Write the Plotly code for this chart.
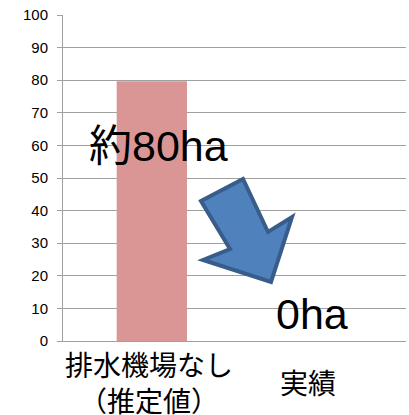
import plotly.graph_objects as go

# Flooded area (ha): estimated without the drainage pump station vs. actual
categories = ["排水機場なし（推定値）", "実績"]
category_labels = ["排水機場なし<br>（推定値）", "実績"]
values = [79.7, 0]
value_labels = ["約80ha", "0ha"]

y_ticks = list(range(0, 101, 10))

BAR_COLOR = "#D99694"
GRID_COLOR = "#A0A0A0"
ARROW_FILL = "#4F81BD"
ARROW_LINE = "#385D8A"
LATIN_CJK = "Liberation Sans, Noto Sans CJK JP, sans-serif"

fig = go.Figure()
fig.add_trace(go.Bar(
    x=categories,
    y=values,
    marker=dict(color=BAR_COLOR, line=dict(width=0)),
    width=0.41,
    offset=-0.187,
    hoverinfo="skip",
))

# Category labels, vertically centred below the axis
label_shift = [0, -12]
for cat, text, dx in zip(categories, category_labels, label_shift):
    fig.add_annotation(
        x=cat, y=-0.134, xref="x", yref="paper",
        text=text, showarrow=False, xshift=dx,
        xanchor="center", yanchor="middle",
        font=dict(family=LATIN_CJK, size=28, color="#000000"),
    )

# Large value callouts
callout_pos = [(0.277, 0.598), (0.726, 0.083)]
for text, (px, py) in zip(value_labels, callout_pos):
    fig.add_annotation(
        x=px, y=py, xref="paper", yref="paper",
        text=text, showarrow=False,
        xanchor="center", yanchor="middle",
        font=dict(family=LATIN_CJK, size=43, color="#000000"),
    )

# Block arrow pointing down-right
arrow_pts = [
    (0.4023, 0.4294), (0.5248, 0.4969), (0.5977, 0.3344),
    (0.6676, 0.3804), (0.6064, 0.1810), (0.4082, 0.2485),
    (0.4869, 0.2822),
]
path = "M " + " L ".join(f"{x},{y}" for x, y in arrow_pts) + " Z"
fig.add_shape(
    type="path", path=path, xref="paper", yref="paper",
    fillcolor=ARROW_FILL, line=dict(color=ARROW_LINE, width=4),
    layer="above",
)

fig.update_layout(
    width=409, height=415,
    margin=dict(l=63, r=3, t=15, b=74),
    paper_bgcolor="white", plot_bgcolor="white",
    showlegend=False,
    bargap=0.59,
)
fig.update_xaxes(
    type="category", range=[-0.5, 1.5],
    showticklabels=False, showgrid=False,
    showline=True, linecolor=GRID_COLOR, linewidth=1,
    ticks="", zeroline=False,
)
fig.update_yaxes(
    range=[0, 100], tickvals=y_ticks,
    showgrid=True, gridcolor=GRID_COLOR, gridwidth=1,
    showline=True, linecolor=GRID_COLOR, linewidth=1,
    ticks="outside", ticklen=5, tickcolor=GRID_COLOR,
    ticklabelstandoff=6,
    zeroline=False,
    tickfont=dict(family=LATIN_CJK, size=15, color="#000000"),
)

fig.write_html("out.html")
